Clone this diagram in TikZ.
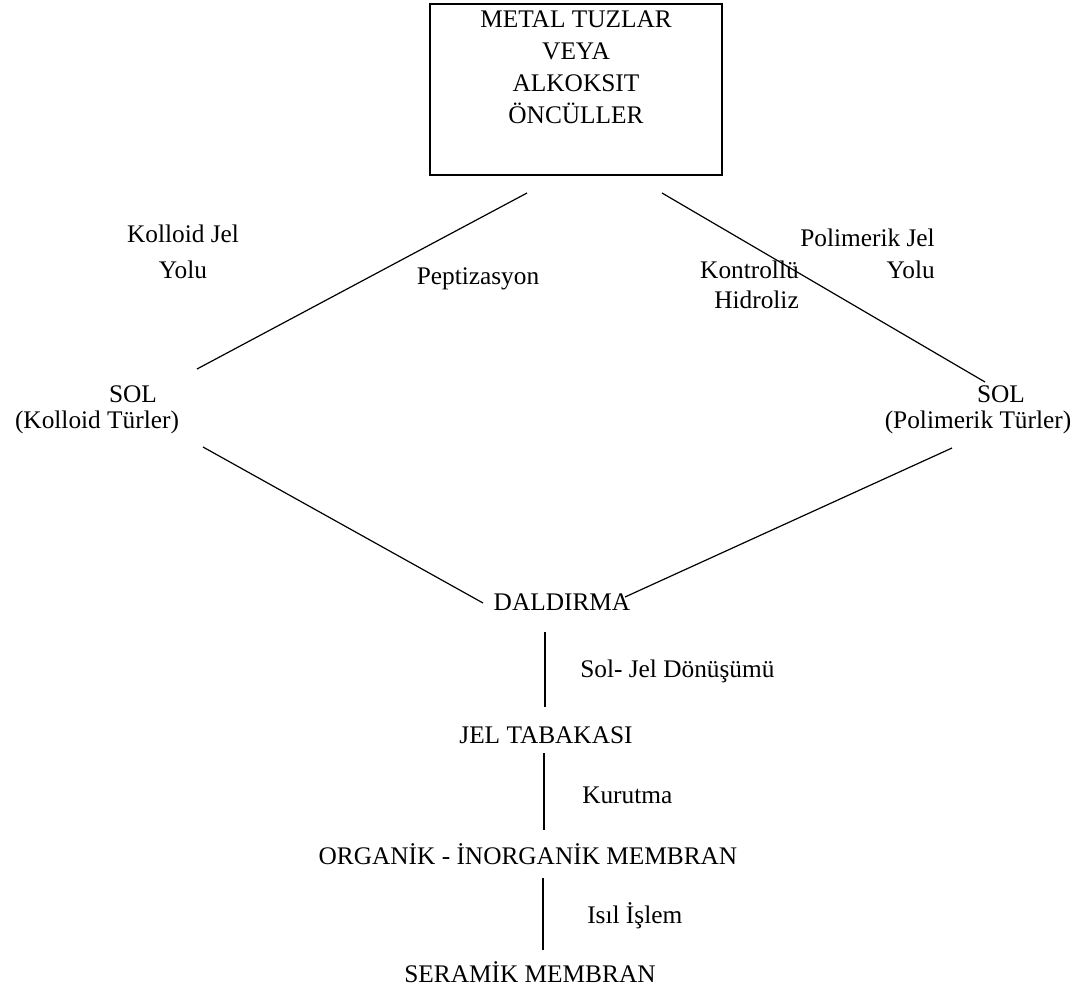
\documentclass[tikz,border=0pt]{standalone}
\usepackage{fontspec}
\setmainfont{Liberation Serif}
\begin{document}
\begin{tikzpicture}[x=0.75pt,y=-0.75pt,
    yazi/.style={font=\fontsize{19}{23.8}\selectfont, inner sep=0pt},
    cizgi/.style={line width=0.9pt},
    kutu/.style={draw, line width=1.1pt, minimum width=219pt, minimum height=128.25pt, inner sep=0pt}]
      \useasboundingbox (0,0) rectangle (1086,993);

      \node[kutu] (oncul) at (576,89.5) {};
      \node[yazi, align=center, anchor=base] (onculyazi) at (576,123) {METAL TUZLAR\\VEYA\\ALKOKSIT\\ÖNCÜLLER};

	\node[yazi, align=center, anchor=base] (kolloidyol) at (183,278) {Kolloid Jel\\[3pt]Yolu};
	\node[yazi, anchor=base] (pept) at (478,284) {Peptizasyon};
	\node[yazi, align=right, anchor=base east] (polyol) at (935,278) {Polimerik Jel\\[0.2pt]Yolu};
	\node[yazi, align=right, anchor=base east] (hidro) at (799,308) {Kontrollü\\[-1.3pt]Hidroliz};

	\node[yazi, anchor=base] (sol1) at (133,402) {SOL};
	\node[yazi, anchor=base] (sol1tur) at (97,428) {(Kolloid Türler)};
	\node[yazi, anchor=base] (sol2) at (1001,402) {SOL};
	\node[yazi, anchor=base] (sol2tur) at (978,428) {(Polimerik Türler)};

	\node[yazi, anchor=base] (dal) at (562,610) {DALDIRMA};
	\node[yazi, anchor=base west] (donusum) at (580,677) {Sol- Jel Dönüşümü};
	\node[yazi, anchor=base] (jel) at (546,743) {JEL TABAKASI};
	\node[yazi, anchor=base west] (kuru) at (582,803) {Kurutma};
	\node[yazi, anchor=base] (orgmem) at (528,864) {ORGANİK - İNORGANİK MEMBRAN};
	\node[yazi, anchor=base west] (isil) at (587,923) {Isıl İşlem};
	\node[yazi, anchor=base] (sermem) at (530,982) {SERAMİK MEMBRAN};

	\coordinate (k1) at (527,193);
	\coordinate (k2) at (197,369);
	\coordinate (p1) at (662,193);
	\coordinate (p2) at (985,382);
	\coordinate (k3) at (203,447);
	\coordinate (k4) at (483,603);
	\coordinate (p3) at (952,448);
	\coordinate (p4) at (625,597);
	\coordinate (d1) at (545,632);
	\coordinate (d2) at (545,707);
	\coordinate (j1) at (544,753);
	\coordinate (j2) at (544,830);
	\coordinate (o1) at (543,878);
	\coordinate (o2) at (543,950);

	\draw[cizgi] (k1) -- (k2);
	\draw[cizgi] (p1) -- (p2);
	\draw[cizgi] (k3) -- (k4);
	\draw[cizgi] (p3) -- (p4);
	\draw[cizgi] (d1) -- (d2);
	\draw[cizgi] (j1) -- (j2);
	\draw[cizgi] (o1) -- (o2);
    \end{tikzpicture}
\end{document}
